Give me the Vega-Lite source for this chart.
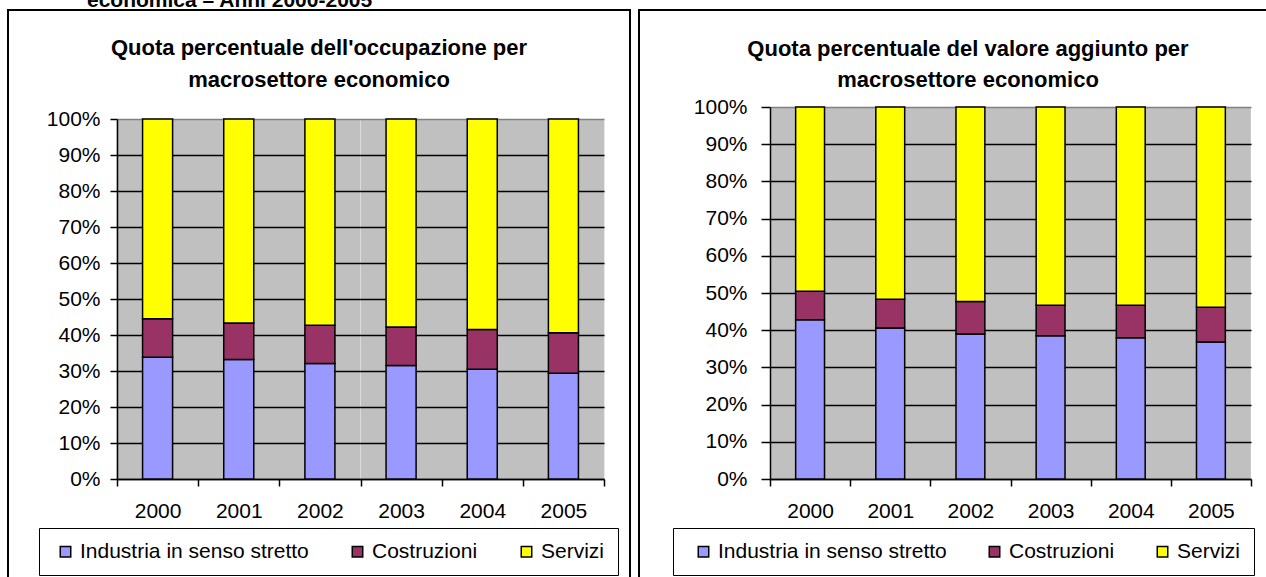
{
  "$schema": "https://vega.github.io/schema/vega-lite/v6.json",
  "background": "white",
  "padding": {"left": 7, "top": -10, "right": 0, "bottom": 0},
  "spacing": 7,
  "resolve": {"scale": {"color": "independent"}, "legend": {"color": "independent"}},
  "title": {"text": "economica – Anni 2000-2005", "anchor": "start", "dx": 80, "offset": -2, "font": "Liberation Sans", "fontSize": 21, "fontWeight": "bold", "color": "black"},
  "datasets": {
    "occupazione": [
      {"anno": "2000", "settore": "Industria in senso stretto", "ordine": 1, "quota": 33.8},
      {"anno": "2000", "settore": "Costruzioni", "ordine": 2, "quota": 10.7},
      {"anno": "2000", "settore": "Servizi", "ordine": 3, "quota": 55.5},
      {"anno": "2001", "settore": "Industria in senso stretto", "ordine": 1, "quota": 33.2},
      {"anno": "2001", "settore": "Costruzioni", "ordine": 2, "quota": 10.1},
      {"anno": "2001", "settore": "Servizi", "ordine": 3, "quota": 56.7},
      {"anno": "2002", "settore": "Industria in senso stretto", "ordine": 1, "quota": 32.1},
      {"anno": "2002", "settore": "Costruzioni", "ordine": 2, "quota": 10.6},
      {"anno": "2002", "settore": "Servizi", "ordine": 3, "quota": 57.3},
      {"anno": "2003", "settore": "Industria in senso stretto", "ordine": 1, "quota": 31.5},
      {"anno": "2003", "settore": "Costruzioni", "ordine": 2, "quota": 10.7},
      {"anno": "2003", "settore": "Servizi", "ordine": 3, "quota": 57.8},
      {"anno": "2004", "settore": "Industria in senso stretto", "ordine": 1, "quota": 30.5},
      {"anno": "2004", "settore": "Costruzioni", "ordine": 2, "quota": 11.0},
      {"anno": "2004", "settore": "Servizi", "ordine": 3, "quota": 58.5},
      {"anno": "2005", "settore": "Industria in senso stretto", "ordine": 1, "quota": 29.4},
      {"anno": "2005", "settore": "Costruzioni", "ordine": 2, "quota": 11.2},
      {"anno": "2005", "settore": "Servizi", "ordine": 3, "quota": 59.4}
    ],
    "valore": [
      {"anno": "2000", "settore": "Industria in senso stretto", "ordine": 1, "quota": 42.8},
      {"anno": "2000", "settore": "Costruzioni", "ordine": 2, "quota": 7.7},
      {"anno": "2000", "settore": "Servizi", "ordine": 3, "quota": 49.5},
      {"anno": "2001", "settore": "Industria in senso stretto", "ordine": 1, "quota": 40.6},
      {"anno": "2001", "settore": "Costruzioni", "ordine": 2, "quota": 7.7},
      {"anno": "2001", "settore": "Servizi", "ordine": 3, "quota": 51.7},
      {"anno": "2002", "settore": "Industria in senso stretto", "ordine": 1, "quota": 39.0},
      {"anno": "2002", "settore": "Costruzioni", "ordine": 2, "quota": 8.7},
      {"anno": "2002", "settore": "Servizi", "ordine": 3, "quota": 52.3},
      {"anno": "2003", "settore": "Industria in senso stretto", "ordine": 1, "quota": 38.5},
      {"anno": "2003", "settore": "Costruzioni", "ordine": 2, "quota": 8.2},
      {"anno": "2003", "settore": "Servizi", "ordine": 3, "quota": 53.3},
      {"anno": "2004", "settore": "Industria in senso stretto", "ordine": 1, "quota": 38.0},
      {"anno": "2004", "settore": "Costruzioni", "ordine": 2, "quota": 8.7},
      {"anno": "2004", "settore": "Servizi", "ordine": 3, "quota": 53.3},
      {"anno": "2005", "settore": "Industria in senso stretto", "ordine": 1, "quota": 36.8},
      {"anno": "2005", "settore": "Costruzioni", "ordine": 2, "quota": 9.4},
      {"anno": "2005", "settore": "Servizi", "ordine": 3, "quota": 53.8}
    ]
  },
  "config": {
    "axis": {"labelFont": "Liberation Sans", "labelFontSize": 21, "labelColor": "black", "domainColor": "black", "domainWidth": 1.5, "tickColor": "black", "tickWidth": 1.5, "title": null},
    "legend": {"labelFont": "Liberation Sans", "labelFontSize": 21, "labelColor": "black"}
  },
  "hconcat": [
    {
      "width": 622,
      "height": 580,
      "view": {"stroke": "black", "strokeWidth": 2, "fill": "white"},
      "title": {"text": ["Quota percentuale dell'occupazione per", "macrosettore economico"], "font": "Liberation Sans", "fontSize": 22, "fontWeight": "bold", "color": "black", "anchor": "middle", "baseline": "top", "offset": -82, "lineHeight": 32},
      "data": {"name": "occupazione"},
      "resolve": {"axis": {"x": "independent"}},
      "layer": [
        {
          "mark": {"type": "tick", "opacity": 0},
          "encoding": {
            "x": {"field": "anno", "type": "ordinal",
                  "scale": {"range": [109, 596], "paddingInner": 0, "paddingOuter": 0},
                  "axis": {"orient": "top", "offset": 0, "tickBand": "center", "grid": true, "gridColor": "#C0C0C0", "gridWidth": 81.7, "domain": false, "ticks": false, "labels": false}},
            "y": {"field": "quota", "type": "quantitative", "stack": "zero",
                  "scale": {"domain": [0, 100], "range": [469, 109], "nice": false},
                  "axis": {"offset": -109, "values": [0, 10, 20, 30, 40, 50, 60, 70, 80, 90, 100], "labelExpr": "datum.value + '%'", "grid": true, "gridColor": {"condition": {"test": "datum.value === 100", "value": "#808080"}, "value": "black"}, "gridWidth": 1.5, "tickSize": 7, "labelPadding": 10}},
            "order": {"field": "ordine", "type": "ordinal"}
          }
        },
        {
          "mark": {"type": "bar", "width": {"band": 0.37}, "stroke": "black", "strokeWidth": 1.5},
          "encoding": {
            "x": {"field": "anno", "type": "ordinal",
                  "scale": {"range": [109, 596], "paddingInner": 0, "paddingOuter": 0},
                  "axis": {"orient": "bottom", "offset": -111, "tickBand": "extent", "grid": false, "tickSize": 7, "labelPadding": 14, "labelAngle": 0}},
            "y": {"field": "quota", "type": "quantitative", "stack": "zero",
                  "scale": {"domain": [0, 100], "range": [469, 109], "nice": false},
                  "axis": {"offset": -109, "values": [0, 10, 20, 30, 40, 50, 60, 70, 80, 90, 100], "labelExpr": "datum.value + '%'", "grid": true, "gridColor": {"condition": {"test": "datum.value === 100", "value": "#808080"}, "value": "black"}, "gridWidth": 1.5, "tickSize": 7, "labelPadding": 10}},
            "order": {"field": "ordine", "type": "ordinal"},
            "color": {"field": "settore", "type": "nominal", "sort": ["Industria in senso stretto", "Costruzioni", "Servizi"],
                      "scale": {"domain": ["Industria in senso stretto", "Costruzioni", "Servizi"], "range": ["#9999FF", "#993366", "#FFFF00"]},
                      "legend": {"orient": "none", "legendX": 31, "legendY": 518, "direction": "horizontal", "columns": 3, "title": null, "strokeColor": "black", "fillColor": "white", "padding": 13, "symbolOffset": 3, "symbolType": "square", "symbolSize": 110, "symbolStrokeColor": "black", "symbolStrokeWidth": 1.5, "symbolOpacity": 1, "columnPadding": 35, "labelOffset": 4, "labelLimit": 400}}
          }
        }
      ]
    },
    {
      "width": 640,
      "height": 580,
      "view": {"stroke": "black", "strokeWidth": 2, "fill": "white"},
      "title": {"text": ["Quota percentuale del valore aggiunto per", "macrosettore economico"], "font": "Liberation Sans", "fontSize": 22, "fontWeight": "bold", "color": "black", "anchor": "middle", "dx": 9, "baseline": "top", "offset": -82, "lineHeight": 31},
      "data": {"name": "valore"},
      "resolve": {"axis": {"x": "independent"}},
      "layer": [
        {
          "mark": {"type": "tick", "opacity": 0},
          "encoding": {
            "x": {"field": "anno", "type": "ordinal",
                  "scale": {"range": [131, 612], "paddingInner": 0, "paddingOuter": 0},
                  "axis": {"orient": "top", "offset": 0, "tickBand": "center", "grid": true, "gridColor": "#C0C0C0", "gridWidth": 80.7, "domain": false, "ticks": false, "labels": false}},
            "y": {"field": "quota", "type": "quantitative", "stack": "zero",
                  "scale": {"domain": [0, 100], "range": [469, 97], "nice": false},
                  "axis": {"offset": -131, "values": [0, 10, 20, 30, 40, 50, 60, 70, 80, 90, 100], "labelExpr": "datum.value + '%'", "grid": true, "gridColor": {"condition": {"test": "datum.value === 100", "value": "#808080"}, "value": "black"}, "gridWidth": 1.5, "tickSize": 9, "labelPadding": 14}},
            "order": {"field": "ordine", "type": "ordinal"}
          }
        },
        {
          "mark": {"type": "bar", "width": {"band": 0.36}, "stroke": "black", "strokeWidth": 1.5},
          "encoding": {
            "x": {"field": "anno", "type": "ordinal",
                  "scale": {"range": [131, 612], "paddingInner": 0, "paddingOuter": 0},
                  "axis": {"orient": "bottom", "offset": -111, "tickBand": "extent", "grid": false, "tickSize": 7, "labelPadding": 14, "labelAngle": 0}},
            "y": {"field": "quota", "type": "quantitative", "stack": "zero",
                  "scale": {"domain": [0, 100], "range": [469, 97], "nice": false},
                  "axis": {"offset": -131, "values": [0, 10, 20, 30, 40, 50, 60, 70, 80, 90, 100], "labelExpr": "datum.value + '%'", "grid": true, "gridColor": {"condition": {"test": "datum.value === 100", "value": "#808080"}, "value": "black"}, "gridWidth": 1.5, "tickSize": 9, "labelPadding": 14}},
            "order": {"field": "ordine", "type": "ordinal"},
            "color": {"field": "settore", "type": "nominal", "sort": ["Industria in senso stretto", "Costruzioni", "Servizi"],
                      "scale": {"domain": ["Industria in senso stretto", "Costruzioni", "Servizi"], "range": ["#9999FF", "#993366", "#FFFF00"]},
                      "legend": {"orient": "none", "legendX": 34, "legendY": 518, "direction": "horizontal", "columns": 3, "title": null, "strokeColor": "black", "fillColor": "white", "padding": 13, "symbolOffset": 7, "symbolType": "square", "symbolSize": 110, "symbolStrokeColor": "black", "symbolStrokeWidth": 1.5, "symbolOpacity": 1, "columnPadding": 30, "labelOffset": 4, "labelLimit": 400}}
          }
        }
      ]
    }
  ]
}
